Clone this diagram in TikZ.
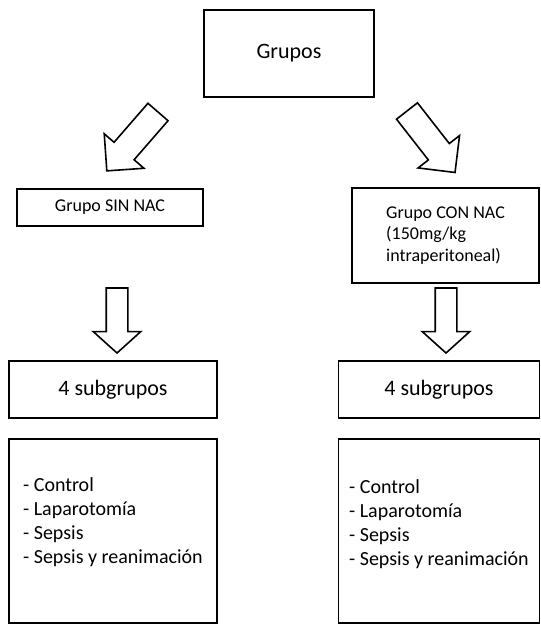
\documentclass[tikz,border=0pt]{standalone}
\usepackage{fontspec}
\setmainfont{Carlito}
\usetikzlibrary{shapes.arrows}

\begin{document}
\begin{tikzpicture}[
        x=1pt, y=-1pt,
        box/.style={draw, line width=1.6pt, rectangle, inner sep=0pt},
        bigfont/.style={font=\fontsize{22}{26}\selectfont},
        smallfont/.style={font=\fontsize{18}{21.5}\selectfont},
        listfont/.style={font=\fontsize{20}{24}\selectfont, align=left, inner sep=0pt},
        blockarrow/.style={draw, line width=1.6pt, single arrow, inner xsep=0pt, outer sep=0pt, fill=white},
        diagarrow/.style={blockarrow, minimum height=78pt, inner ysep=12.5pt, single arrow head extend=13pt, single arrow tip angle=90},
        downarrow/.style={blockarrow, minimum height=65pt, inner ysep=10pt, single arrow head extend=13pt, single arrow tip angle=96},
    ]
    \useasboundingbox (0,0) rectangle (541,625);
    \node[box, bigfont, minimum width=170pt, minimum height=87pt](grupos) at (289,53.5){Grupos};
    \node[box, smallfont, minimum width=186pt, minimum height=37pt](sin) at (110,207.5){Grupo SIN NAC\hspace{10pt}};
    \node[box, smallfont, align=left, minimum width=187pt, minimum height=95pt](con) at (445.5,235.5){Grupo CON NAC\\(150mg/kg\\intraperitoneal)};
    \node[box, bigfont, minimum width=208pt, minimum height=57pt](subL) at (113,389.5){4 subgrupos};
    \node[box, bigfont, minimum width=201pt, minimum height=57pt](subR) at (439,389.5){4 subgrupos};
    \node[box, minimum width=208pt, minimum height=184pt](listL) at (113,531){};
    \node[box, minimum width=201pt, minimum height=184pt](listR) at (439,531){};
    \node[listfont, anchor=north west](itemsL) at (23,477){- Control\\- Laparotomía\\- Sepsis\\- Sepsis y reanimación};
    \node[listfont, anchor=north west](itemsR) at (349,479){- Control\\- Laparotomía\\- Sepsis\\- Sepsis y reanimación};
    \node[diagarrow, rotate=229, anchor=tail](arrL) at (158,112){};
    \node[diagarrow, rotate=-52, anchor=tail](arrR) at (407,111){};
    \node[downarrow, rotate=-90, anchor=tail](downL) at (117,288){};
    \node[downarrow, rotate=-90, anchor=tail](downR) at (446,288){};
    \end{tikzpicture}
\end{document}
